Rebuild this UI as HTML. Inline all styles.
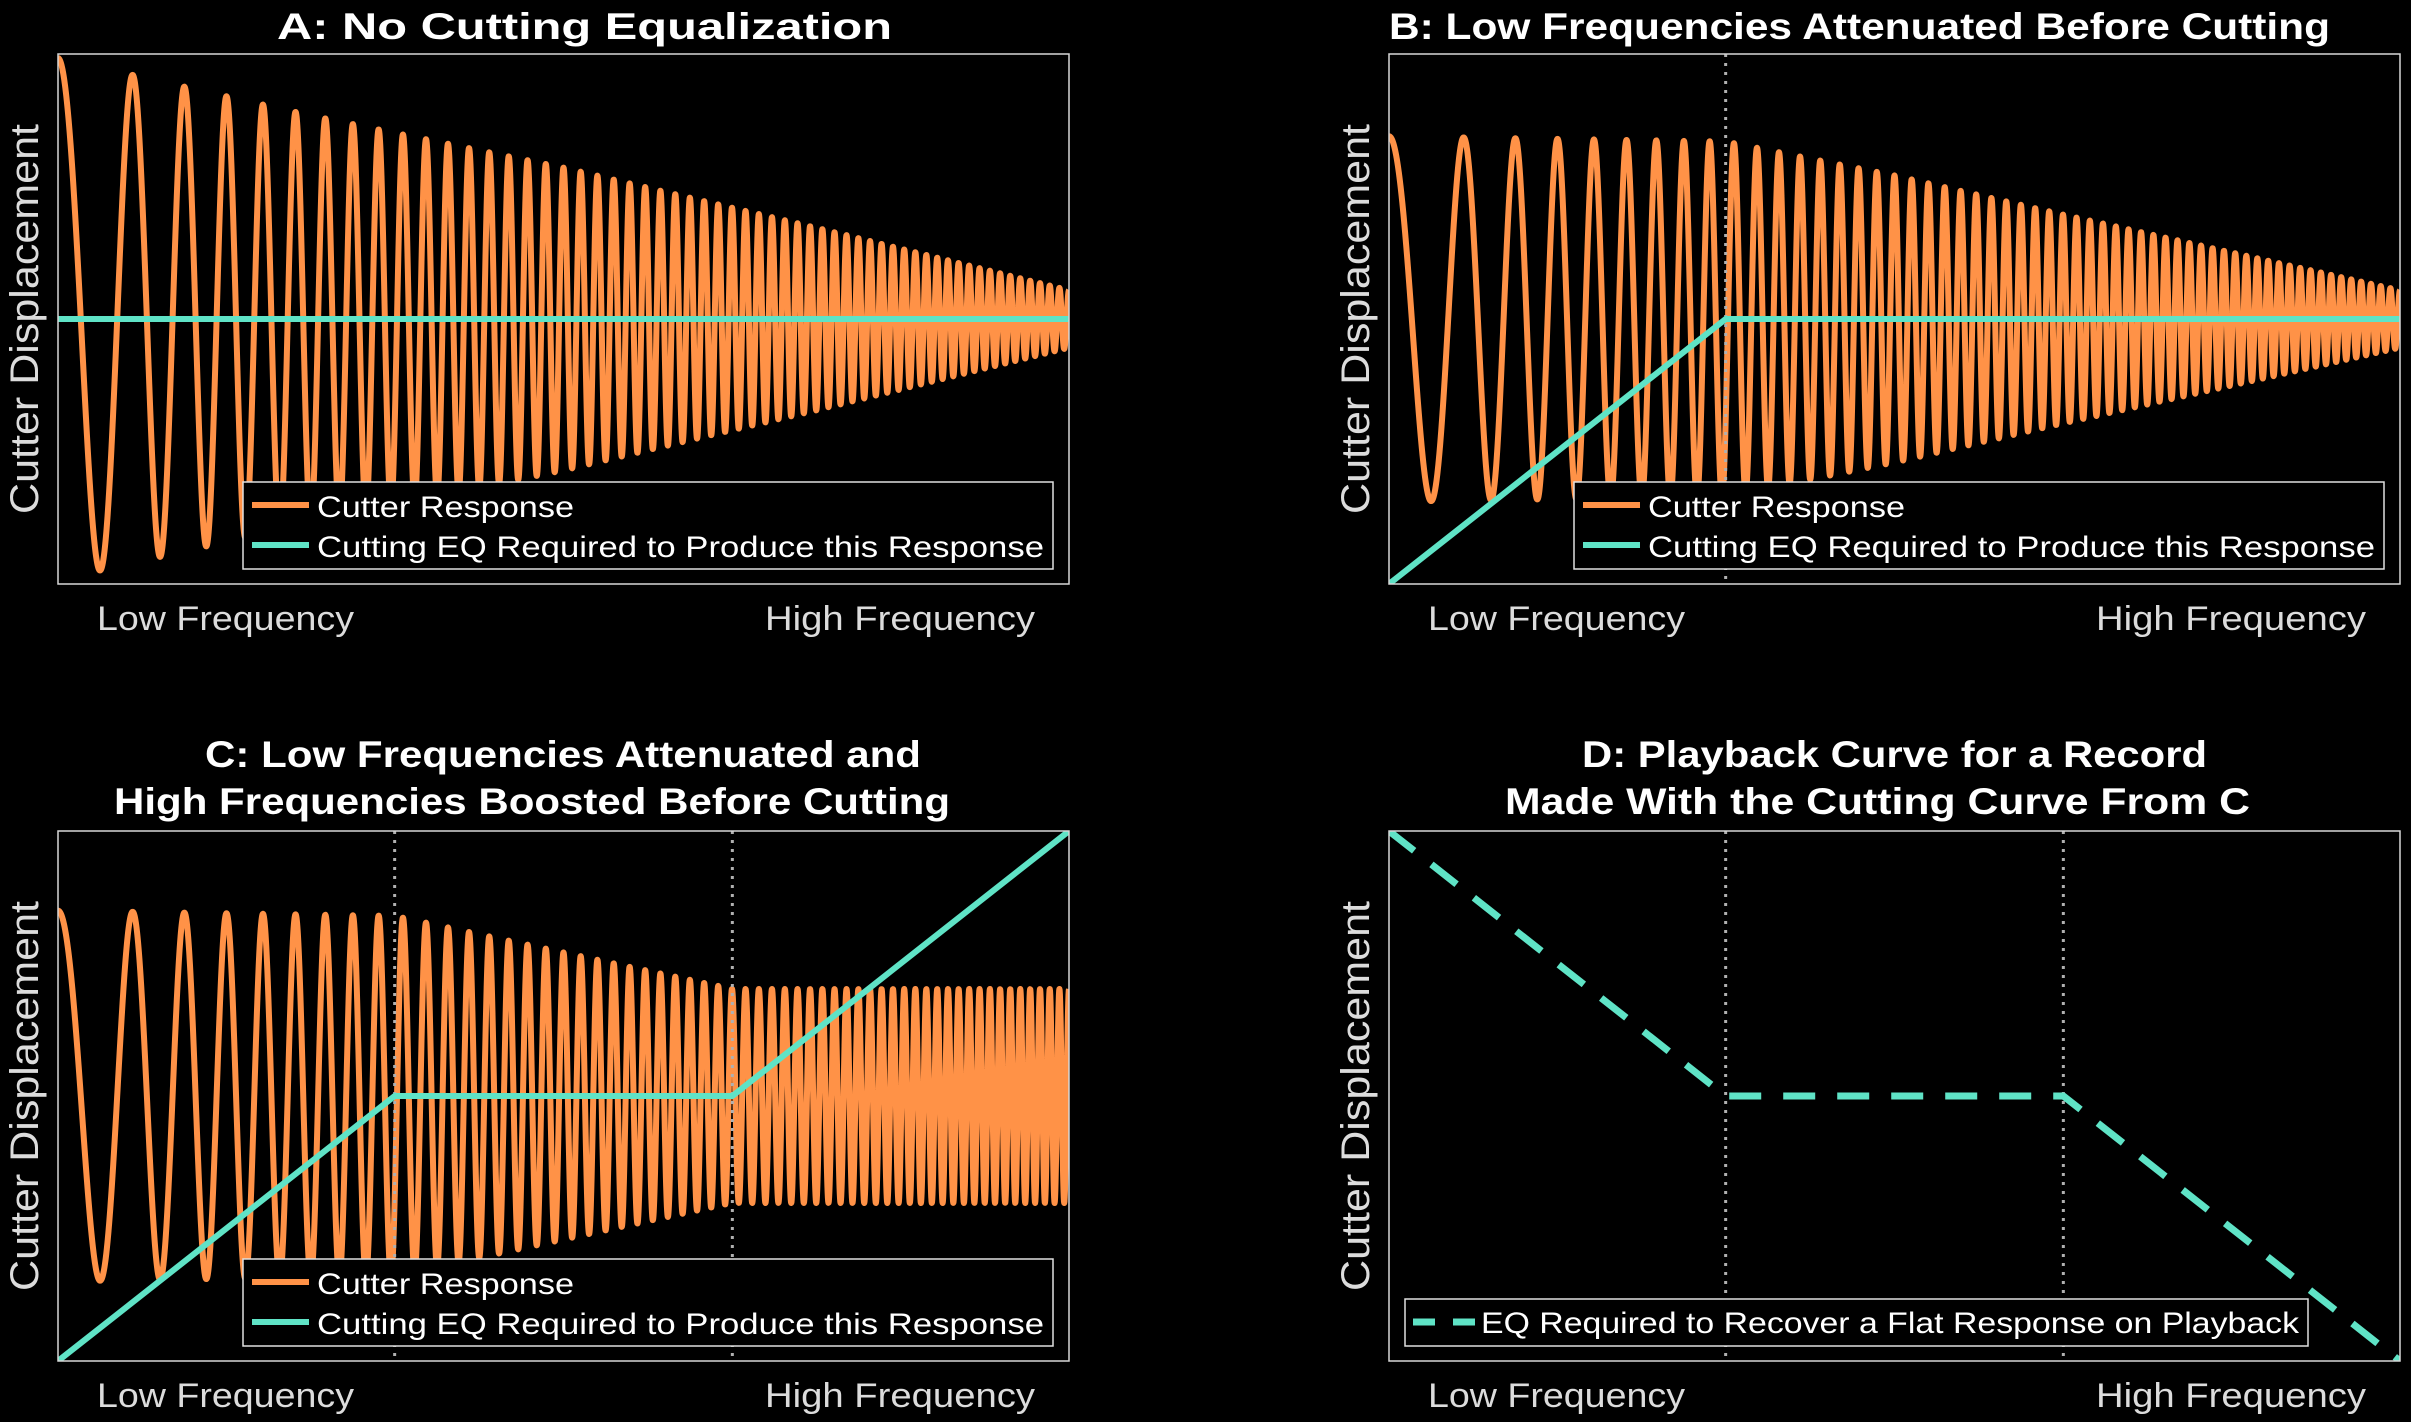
<!DOCTYPE html>
<html><head><meta charset="utf-8"><style>
html,body{margin:0;padding:0;background:#000;}
svg{display:block;}
text{font-family:"Liberation Sans",sans-serif;}
</style></head><body>
<svg id="fig" width="2411" height="1422" viewBox="0 0 2411 1422" xmlns="http://www.w3.org/2000/svg">
<rect x="0" y="0" width="2411" height="1422" fill="#000"/>
</svg>
<script>
// ---- data (normalized: x 0..1 = low..high frequency, y -1..1) ----
const chirpCycles = [10, 48];            // linear + quadratic phase cycles
const envXA = [0, 0.25, 0.5, 0.75, 1];
const envYA = [1.0, 0.78, 0.58, 0.35, 0.11];
const envXB = [0, 0.333, 0.5, 0.667, 1];
const envYB = [0.70, 0.68, 0.55, 0.40, 0.11];
const envXC = [0, 0.333, 0.5, 0.667, 1];
const envYC = [0.71, 0.69, 0.55, 0.41, 0.41];
const eqXA = [0, 1];            const eqYA = [0, 0];
const eqXB = [0, 0.333, 1];     const eqYB = [-1, 0, 0];
const eqXC = [0, 0.333, 0.667, 1]; const eqYC = [-1, 0, 0, 1];
const eqXD = [0, 0.333, 0.667, 1]; const eqYD = [1, 0, 0, -1];
const breaksB = [0.333];
const breaksC = [0.333, 0.667];
const breaksD = [0.333, 0.667];
const xTickLabels = ["Low Frequency", "High Frequency"];

const NS = "http://www.w3.org/2000/svg";
const svg = document.getElementById('fig');
const ORANGE = "#FF9247", TEAL = "#5FE3C6";
function mk(tag, attrs, parent){const e=document.createElementNS(NS,tag);for(const k in attrs)e.setAttribute(k,attrs[k]);(parent||svg).appendChild(e);return e;}
function txt(s,x,y,size,len,opts,parent){const t=mk('text',Object.assign({x:x,y:y,'font-size':size,fill:'#fff',textLength:len,lengthAdjust:'spacingAndGlyphs'},opts||{}),parent);t.textContent=s;return t;}
function interp(xs,ys,t){for(let i=0;i<xs.length-1;i++){if(t<=xs[i+1]){const f=(t-xs[i])/(xs[i+1]-xs[i]);return ys[i]+f*(ys[i+1]-ys[i]);}}return ys[ys.length-1];}

const W=1011,H=530;
const panels=[
 {id:'a',bx:58,by:54,titles:[["A: No Cutting Equalization",277,615]],env:[envXA,envYA],eq:[eqXA,eqYA],br:[],legend:'two'},
 {id:'b',bx:1389,by:54,titles:[["B: Low Frequencies Attenuated Before Cutting",1389,941]],env:[envXB,envYB],eq:[eqXB,eqYB],br:breaksB,legend:'two'},
 {id:'c',bx:58,by:831,titles:[["C: Low Frequencies Attenuated and",205,716],["High Frequencies Boosted Before Cutting",114,836]],env:[envXC,envYC],eq:[eqXC,eqYC],br:breaksC,legend:'two'},
 {id:'d',bx:1389,by:831,titles:[["D: Playback Curve for a Record",1582,625],["Made With the Cutting Curve From C",1505,745]],env:null,eq:[eqXD,eqYD],br:breaksD,legend:'one'}
];

panels.forEach(p=>{
  const g=mk('g',{});
  
  
  const sx=t=>p.bx+t*W, sy=v=>p.by+H/2-v*H/2;
  // titles
  const tb = p.titles.length===1 ? [p.by-15] : [p.by-64,p.by-17];
  p.titles.forEach((tt,i)=>{const t=txt(tt[0],tt[1],tb[i],37,tt[2],{'font-weight':'bold'},g);
    
    });
  // y label
  const yl=txt("Cutter Displacement",0,0,40,390,{fill:'#dcdcdc','text-anchor':'middle',transform:`translate(${p.bx-20},${p.by+H/2}) rotate(-90)`},g);
  
  
  // x labels
  const xl1=txt(xTickLabels[0],p.bx+39,p.by+H+46,34,257,{fill:'#dcdcdc'},g);
  
  
  const xl2=txt(xTickLabels[1],p.bx+707,p.by+H+46,34,270,{fill:'#dcdcdc'},g);
  
  
  // clip
  const cp=mk('clipPath',{id:'clip'+p.id},g);
  mk('rect',{x:p.bx,y:p.by,width:W,height:H},cp);
  const plot=mk('g',{'clip-path':`url(#clip${p.id})`},g);
  
  
  // response
  if(p.env){
    let d='';const N=4000;
    for(let i=0;i<=N;i++){const t=i/N;const ph=2*Math.PI*(chirpCycles[0]*t+chirpCycles[1]*t*t);
      const v=interp(p.env[0],p.env[1],t)*Math.cos(ph);
      d+=(i?'L':'M')+sx(t).toFixed(2)+' '+sy(v*0.985).toFixed(2);}
    const r=mk('path',{d:d,fill:'none',stroke:ORANGE,'stroke-width':6,'stroke-linejoin':'round'},plot);
    
    
  }
  // breakpoints
  p.br.forEach(b=>{const l=mk('line',{x1:sx(b),x2:sx(b),y1:p.by,y2:p.by+H,stroke:'#b0b0b0','stroke-width':3,'stroke-dasharray':'3 6'},plot);
    
    });
  // eq
  let d='';p.eq[0].forEach((x,i)=>{d+=(i?'L':'M')+sx(x).toFixed(2)+' '+sy(p.eq[1][i]).toFixed(2);});
  const eqAttrs={d:d,fill:'none',stroke:TEAL,'stroke-width':p.id==='d'?7:6,'stroke-linejoin':'round'};
  if(p.id==='d') eqAttrs['stroke-dasharray']='32 22';
  const e=mk('path',eqAttrs,plot);
  
  
  // box
  const bx=mk('rect',{x:p.bx,y:p.by,width:W,height:H,fill:'none',stroke:'#d8d8d8','stroke-width':1.5},g);
  
  
  // legend
  const lg=mk('g',{},g);
  
  
  if(p.legend==='two'){
    const ox=p.bx-58, oy=p.by-54;
    mk('rect',{x:243+ox,y:482+oy,width:810,height:87,fill:'#000',stroke:'#e0e0e0','stroke-width':1.5},lg);
    const l1=mk('line',{x1:252+ox,x2:309+ox,y1:505+oy,y2:505+oy,stroke:ORANGE,'stroke-width':6},lg);
    
    
    const t1=txt("Cutter Response",317+ox,517+oy,30,257,{},lg);
    
    
    const l2=mk('line',{x1:252+ox,x2:309+ox,y1:545+oy,y2:545+oy,stroke:TEAL,'stroke-width':6},lg);
    
    
    const t2=txt("Cutting EQ Required to Produce this Response",317+ox,557+oy,30,727,{},lg);
    
    
  } else {
    mk('rect',{x:1405,y:1299,width:903,height:47,fill:'#000',stroke:'#e0e0e0','stroke-width':1.5},lg);
    const l1=mk('line',{x1:1413,x2:1476,y1:1322,y2:1322,stroke:TEAL,'stroke-width':7,'stroke-dasharray':'22 18'},lg);
    
    
    const t1=txt("EQ Required to Recover a Flat Response on Playback",1481,1333,30,818,{},lg);
    
    
  }
});
</script>
</body></html>
